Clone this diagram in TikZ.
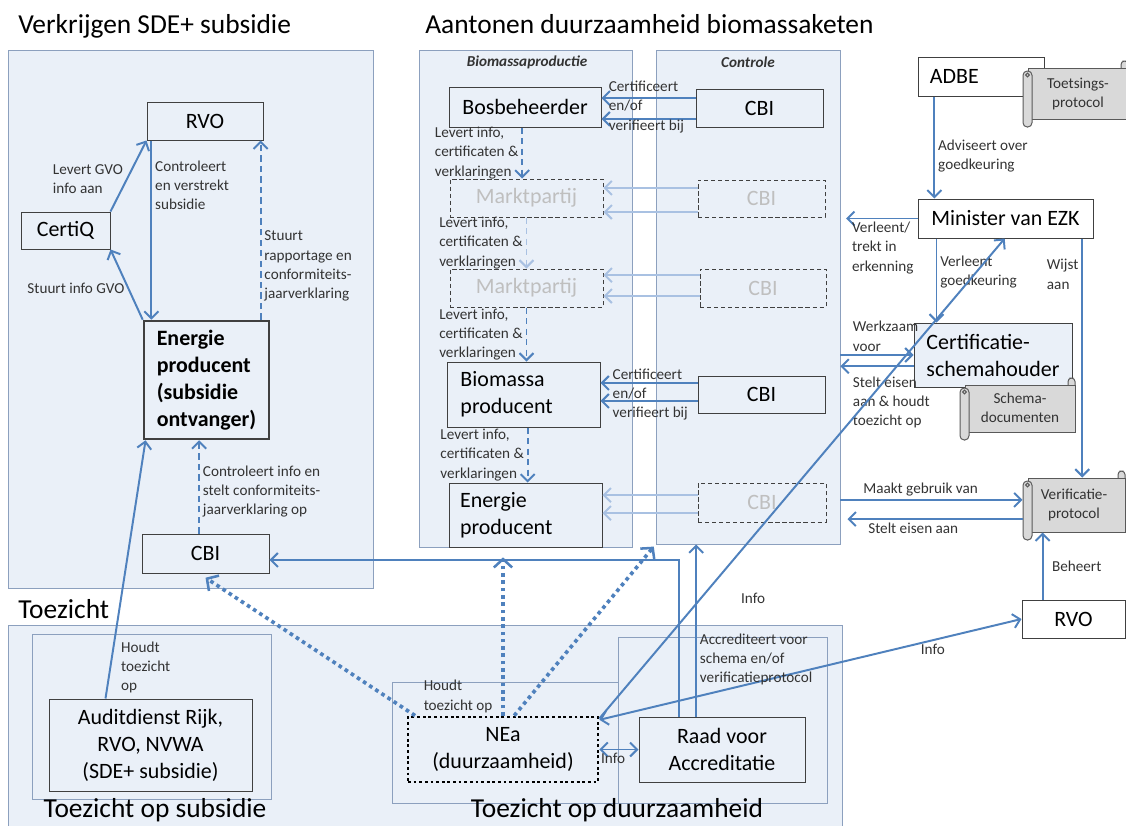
\documentclass[tikz,border=0pt]{standalone}
\usepackage{fontspec}
\setmainfont{Carlito}
\usetikzlibrary{arrows.meta,fit}
\definecolor{arrblue}{HTML}{4F81BD}
\definecolor{arrfade}{HTML}{A9C1E2}
\definecolor{pnlfill}{HTML}{EAF0F8}
\definecolor{pnlline}{HTML}{8CA0BE}
\definecolor{boxline}{HTML}{404040}
\definecolor{fadetxt}{HTML}{BFBFBF}
\definecolor{lbltxt}{HTML}{333333}
\definecolor{scrfill}{HTML}{D9D9D9}
\definecolor{scrline}{HTML}{595959}

\newcommand\scrl[4]{%
  \draw[scr, rounded corners=2.5pt] (#3-7,#2-7) rectangle (#3,#2+4);
  \draw[scr] (#1+5,#2) rectangle (#3,#4-8);
  \draw[scr, rounded corners=3pt] (#1,#2+3) rectangle (#1+9,#4);
  \draw[scr] (#1+4.5,#2+7) circle (1.3pt);}
\newcommand\bx[6][]{\node[bx, minimum width={(#4-#2)*0.025cm}, minimum height={(#5-#3)*0.025cm}, #1] (#6) at ({(#2+#4)/2},{(#3+#5)/2})}

\begin{document}
\begin{tikzpicture}[x=0.025cm, y=-0.025cm, >={Straight Barb[length=5pt,width=10pt]},
  pnl/.style={draw=pnlline, fill=pnlfill, line width=.6pt, inner sep=0pt},
  bx/.style={draw=boxline, line width=.7pt, inner sep=0pt, text=black, font=\fontsize{15.6}{19.2}\selectfont},
  dbx/.style={bx, dash pattern=on 3pt off 2pt, text=fadetxt},
  lbl/.style={font=\fontsize{10.8}{13.6}\selectfont, text=lbltxt, align=left, inner sep=2pt},
  stx/.style={lbl, align=center, inner sep=0pt},
  scr/.style={draw=scrline, fill=scrfill, line width=.7pt},
  ttl/.style={font=\fontsize{19.5}{22}\selectfont, inner sep=0pt},
  hdr/.style={font=\fontsize{10.8}{13}\selectfont\bfseries\itshape, text=lbltxt},
  arr/.style={draw=arrblue, line width=1.4pt, ->},
  arr2/.style={arr, <->},
  farr/.style={arr, draw=arrfade},
  darr/.style={arr, dash pattern=on 4.5pt off 3pt},
  fdarr/.style={darr, draw=arrfade},
  tarr/.style={draw=arrblue, line width=2.6pt, dash pattern=on 2.6pt off 2.6pt, -{Straight Barb[length=6pt,width=13pt,line width=1.8pt]}}]
\useasboundingbox (0,0) rectangle (1126,825);

\node[pnl, fit={(8,50) (373,588)}] (pSub) {};
\node[pnl, fit={(419,50) (632,547)}] (pBio) {};
\node[pnl, fit={(656,50) (840,544)}] (pCon) {};
\node[pnl, fit={(8,625) (842,840)}] (pToe) {};
\node[pnl, fit={(32,634) (271,799)}] (pTs) {};
\node[pnl, fit={(392,682) (618,803)}] (pNea) {};
\node[pnl, fit={(618,637) (827,803)}] (pRaad) {};

\node[ttl, anchor=base west] (tSub) at (18,33) {Verkrijgen SDE+ subsidie};
\node[ttl, anchor=base west] (tBio) at (425,33) {Aantonen duurzaamheid biomassaketen};
\node[ttl, anchor=base west] (tToe) at (18,618) {Toezicht};
\node[ttl, anchor=base] (tTs) at (155,817) {Toezicht op subsidie};
\node[ttl, anchor=base] (tTd) at (617,817) {Toezicht op duurzaamheid};
\node[hdr] (hBio) at (527,62) {Biomassaproductie};
\node[hdr] (hCon) at (748,62) {Controle};

\bx{147}{102}{263}{140}{rvoA} {RVO};
\bx{21}{212}{110}{249}{certiq} {CertiQ};
\bx[line width=1.8pt, align=left, font=\fontsize{15.6}{19.2}\selectfont\bfseries]{144}{321}{269}{439}{enA} {Energie\\producent\\(subsidie\\ontvanger)};
\bx{142}{534}{269}{573}{cbiL} {CBI};
\bx[align=center]{49}{699}{252}{791}{audit} {Auditdienst Rijk,\\RVO, NVWA\\(SDE+ subsidie)};

\bx{449}{87}{601}{127}{bos} {Bosbeheerder};
\bx{696}{89}{823}{127}{cbiA} {CBI};
\bx[dbx]{450}{179}{603}{217}{mp1} {Marktpartij};
\bx[dbx]{698}{180}{825}{217}{cbiB} {CBI};
\bx[dbx]{450}{269}{603}{307}{mp2} {Marktpartij};
\bx[dbx]{700}{269}{826}{307}{cbiC} {CBI};
\bx[align=left, text width=3.15cm]{447}{362}{600}{427}{biom} {Biomassa\\producent};
\bx{698}{376}{825}{413}{cbiD} {CBI};
\bx[align=left, text width=3.27cm]{449}{483}{602}{547}{enB} {Energie\\producent};
\bx[dbx]{698}{483}{826}{522}{cbiE} {CBI};

\bx[fill=white, align=left, text width=2.55cm]{918}{57}{1044}{96}{adbe} {ADBE};
\scrl{1023}{68}{1128}{127}
\node[stx] (toets) at (1078,94) {Toetsings-\\protocol};
\bx{918}{199}{1093}{238}{minez} {Minister van EZK};
\bx[fill=pnlfill, align=left]{914}{323}{1072}{387}{cert} {Certificatie-\\schemahouder};
\scrl{960}{385}{1075}{440}
\node[stx] (schema) at (1020,408) {Schema-\\documenten};
\scrl{1023}{478}{1125}{540}
\bx[stx, draw=none]{1023}{478}{1125}{532}{verif} {Verificatie-\\protocol};
\bx{1022}{600}{1125}{638}{rvoB} {RVO};

\bx[fill=pnlfill, draw=black, line width=2pt, dash pattern=on 2pt off 2pt, align=center]{408}{717}{598}{782}{nea} {NEa\\(duurzaamheid)};
\bx[align=center]{639}{717}{805}{782}{raad} {Raad voor\\Accreditatie};

\draw[arr] (certiq.north east) -- node[lbl, left, pos=.45] {Levert GVO\\info aan} (rvoA.south west);
\draw[arr] ([xshift=3.5pt]rvoA.south west) coordinate (r1) -- node[lbl, right, pos=.25] {Controleert\\en verstrekt\\subsidie} (r1 |- enA.north);
\draw[arr] (enA.north west) -- node[lbl, left, pos=.45] {Stuurt info GVO} (certiq.south east);
\coordinate (r2) at ([xshift=-2pt]rvoA.south east);
\draw[darr] (r2 |- enA.north) -- node[lbl, right, pos=.3] {Stuurt\\rapportage en\\conformiteits-\\jaarverklaring} (r2);
\draw[darr] ([xshift=-4.5pt]cbiL.north) coordinate (c1) -- node[lbl, right, pos=.45] {Controleert info en\\stelt conformiteits-\\jaarverklaring op} (c1 |- enA.south);
\draw[arr] ([xshift=-32pt]audit.north) -- node[lbl, right, pos=.12, xshift=5pt] {Houdt\\toezicht\\op} ([xshift=2pt]enA.south west);

\draw[arr] ([yshift=7pt]cbiA.west) coordinate (k1) -- (k1 -| bos.east);
\draw[arr] ([yshift=-7.8pt]cbiA.west) coordinate (k2) -- (k2 -| bos.east);
\node[lbl, anchor=west] (lCertA) at ([xshift=3pt]bos.east) {Certificeert\\en/of\\verifieert bij};
\draw[farr] ([yshift=7.5pt]cbiB.west) coordinate (k3) -- (k3 -| mp1.east);
\draw[farr] ([yshift=-9.6pt]cbiB.west) coordinate (k4) -- (k4 -| mp1.east);
\draw[farr] ([yshift=9.2pt]cbiC.west) coordinate (k5) -- (k5 -| mp2.east);
\draw[farr] ([yshift=-5.7pt]cbiC.west) coordinate (k6) -- (k6 -| mp2.east);
\draw[arr] ([yshift=8.2pt]cbiD.west) coordinate (k7) -- (k7 -| biom.east);
\draw[arr] ([yshift=-4.6pt]cbiD.west) coordinate (k8) -- (k8 -| biom.east);
\node[lbl, anchor=west] (lCertD) at ([xshift=6.5pt]biom.east) {Certificeert\\en/of\\verifieert bij};
\draw[farr] ([yshift=5.3pt]cbiE.west) coordinate (k9) -- (k9 -| enB.east);
\draw[farr] ([yshift=-7.5pt]cbiE.west) coordinate (k10) -- (k10 -| enB.east);

\draw[darr] ([xshift=-2pt]bos.south) coordinate (b1) -- node[lbl, left] {Levert info,\\certificaten \&\\verklaringen} (b1 |- mp1.north);
\draw[fdarr] (mp1.south) -- node[lbl, left] {Levert info,\\certificaten \&\\verklaringen} (mp2.north);
\draw[darr] (mp2.south) -- node[lbl, left] {Levert info,\\certificaten \&\\verklaringen} (mp2.south |- biom.north);
\draw[darr] ([xshift=3pt]biom.south) coordinate (b2) -- node[lbl, left] {Levert info,\\certificaten \&\\verklaringen} (b2 |- enB.north);

\draw[arr] ([xshift=12pt]adbe.south west) coordinate (a1) -- node[lbl, right, pos=.58] {Adviseert over\\goedkeuring} (a1 |- minez.north);
\draw[arr, shorten >=4pt] (minez.west) -- node[lbl, below, pos=.45] {Verleent/\\trekt in\\erkenning} (minez.west -| pCon.east);
\draw[arr] ([xshift=13.5pt]minez.south west) coordinate (m1) -- node[lbl, right, pos=.4] {Verleent\\goedkeuring} (m1 |- cert.north);
\draw[arr] ([xshift=-8pt]minez.south east) coordinate (m2) -- node[lbl, left, pos=.15] {Wijst\\aan} (m2 |- verif.north);
\draw[arr] (cert.west -| pCon.east) -- node[lbl, above right, pos=.12] {Werkzaam\\voor} (cert.west);
\draw[arr] ([yshift=-8pt]cert.west) coordinate (s1) -- node[lbl, below right, pos=.88, yshift=-5pt] {Stelt eisen\\aan \& houdt\\toezicht op} (s1 -| pCon.east);
\coordinate (v1) at ([yshift=3.6pt]verif.west);
\coordinate (v2) at ([yshift=-10pt]verif.west);
\draw[arr] (v1 -| pCon.east) -- node[lbl, above, pos=.44] {Maakt gebruik van} (v1);
\draw[arr, shorten >=5pt] (v2) -- node[lbl, below, pos=.6] {Stelt eisen aan} (v2 -| pCon.east);
\draw[arr] ([xshift=15pt]rvoB.north west) coordinate (v3) -- node[lbl, right, xshift=4pt] {Beheert} (v3 |- verif.south);

\draw[tarr] ([xshift=6pt]nea.north west) -- ([yshift=-3pt]cbiL.south);
\draw[tarr, shorten >=7pt] (nea.north) -- (nea.north |- enB.south);
\draw[tarr, shorten >=2pt] ([xshift=8pt]nea.north) -- (pCon.south west);
\node[lbl, anchor=south west] (lHoudt) at ([xshift=10pt]nea.north west) {Houdt\\toezicht op};

\draw[arr2] ([yshift=-3pt]nea.north east) -- node[lbl, below, pos=.79] {Info} (rvoB.west);
\draw[arr] ([yshift=-2pt]nea.north east) -- node[lbl, right=26pt, pos=.25] {Info} ([xshift=62pt]minez.south west);
\draw[arr2] (nea.east) -- node[lbl, below, pos=.35] {Info} (raad.west);
\draw[arr] ([xshift=29pt]raad.north west) |- ([yshift=-4.6pt]cbiL.east);
\draw[arr] ([xshift=41pt]raad.north west) coordinate (r3) -- node[lbl, right, pos=.33] {Accrediteert voor\\schema en/of\\verificatieprotocol} (r3 |- pCon.south);
\end{tikzpicture}
\end{document}
